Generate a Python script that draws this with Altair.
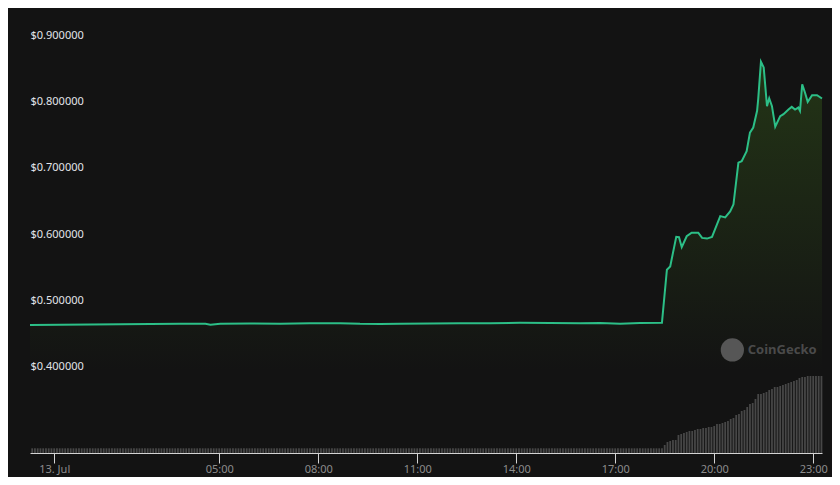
import altair as alt
import pandas as pd

# ---------------- data ----------------
price_times = [
    "2023-07-12T23:16", "2023-07-13T00:11", "2023-07-13T01:05", "2023-07-13T02:00",
    "2023-07-13T02:55", "2023-07-13T03:49", "2023-07-13T04:35", "2023-07-13T04:44",
    "2023-07-13T05:02", "2023-07-13T05:56", "2023-07-13T06:51", "2023-07-13T07:45",
    "2023-07-13T08:40", "2023-07-13T09:16", "2023-07-13T09:53", "2023-07-13T10:29",
    "2023-07-13T11:24", "2023-07-13T12:18", "2023-07-13T13:13", "2023-07-13T14:07",
    "2023-07-13T15:02", "2023-07-13T15:56", "2023-07-13T16:33", "2023-07-13T17:09",
    "2023-07-13T17:45", "2023-07-13T18:25", "2023-07-13T18:34", "2023-07-13T18:40",
    "2023-07-13T18:51", "2023-07-13T18:56", "2023-07-13T19:01", "2023-07-13T19:10",
    "2023-07-13T19:19", "2023-07-13T19:31", "2023-07-13T19:38", "2023-07-13T19:47",
    "2023-07-13T19:56", "2023-07-13T20:11", "2023-07-13T20:20", "2023-07-13T20:29",
    "2023-07-13T20:35", "2023-07-13T20:44", "2023-07-13T20:50", "2023-07-13T20:59",
    "2023-07-13T21:05", "2023-07-13T21:11", "2023-07-13T21:18", "2023-07-13T21:20",
    "2023-07-13T21:25", "2023-07-13T21:30", "2023-07-13T21:36", "2023-07-13T21:40",
    "2023-07-13T21:45", "2023-07-13T21:51", "2023-07-13T22:00", "2023-07-13T22:06",
    "2023-07-13T22:15", "2023-07-13T22:21", "2023-07-13T22:27", "2023-07-13T22:33",
    "2023-07-13T22:36", "2023-07-13T22:40", "2023-07-13T22:45", "2023-07-13T22:50",
    "2023-07-13T22:58", "2023-07-13T23:07", "2023-07-13T23:16",
]
price_values = [
    0.4695, 0.4700, 0.4702, 0.4706,
    0.4709, 0.4712, 0.4712, 0.4700,
    0.4712, 0.4718, 0.4715, 0.4720,
    0.4722, 0.4712, 0.4710, 0.4712,
    0.4718, 0.4720, 0.4722, 0.4727,
    0.4725, 0.4722, 0.4725, 0.4712,
    0.4725, 0.4730, 0.5530, 0.5580,
    0.6026, 0.6020, 0.5870, 0.6035,
    0.6090, 0.6090, 0.6010, 0.6000,
    0.6026, 0.6340, 0.6320, 0.6410,
    0.6515, 0.7147, 0.7170, 0.7320,
    0.7600, 0.7677, 0.7930, 0.8106,
    0.8670, 0.8586, 0.8000, 0.8120,
    0.8000, 0.7690, 0.7850, 0.7880,
    0.7950, 0.7990, 0.7950, 0.7980,
    0.7930, 0.8330, 0.8207, 0.8065,
    0.8167, 0.8167, 0.8116,
]

# 5-minute volume bars, first bar 2023-07-12 23:20 (values in $M)
vol_start = "2023-07-12T23:20"
vol_values = [
    # 23:20-23:55 (Jul 12)
    0.47, 0.47, 0.47, 0.47, 0.47, 0.47, 0.47, 0.47,
    # 00:00 - 17:55 (Jul 13), one row per hour
    0.47, 0.47, 0.47, 0.47, 0.47, 0.47, 0.47, 0.47, 0.47, 0.47, 0.47, 0.47,
    0.47, 0.47, 0.47, 0.47, 0.47, 0.47, 0.47, 0.47, 0.47, 0.47, 0.47, 0.47,
    0.47, 0.47, 0.47, 0.47, 0.47, 0.47, 0.47, 0.47, 0.47, 0.47, 0.47, 0.47,
    0.47, 0.47, 0.47, 0.47, 0.47, 0.47, 0.47, 0.47, 0.47, 0.47, 0.47, 0.47,
    0.47, 0.47, 0.47, 0.47, 0.47, 0.47, 0.47, 0.47, 0.47, 0.47, 0.47, 0.47,
    0.47, 0.47, 0.47, 0.47, 0.47, 0.47, 0.47, 0.47, 0.47, 0.47, 0.47, 0.47,
    0.47, 0.47, 0.47, 0.47, 0.47, 0.47, 0.47, 0.47, 0.47, 0.47, 0.47, 0.47,
    0.47, 0.47, 0.47, 0.47, 0.47, 0.47, 0.47, 0.47, 0.47, 0.47, 0.47, 0.47,
    0.47, 0.47, 0.47, 0.47, 0.47, 0.47, 0.47, 0.47, 0.47, 0.47, 0.47, 0.47,
    0.47, 0.47, 0.47, 0.47, 0.47, 0.47, 0.47, 0.47, 0.47, 0.47, 0.47, 0.47,
    0.47, 0.47, 0.47, 0.47, 0.47, 0.47, 0.47, 0.47, 0.47, 0.47, 0.47, 0.47,
    0.47, 0.47, 0.47, 0.47, 0.47, 0.47, 0.47, 0.47, 0.47, 0.47, 0.47, 0.47,
    0.47, 0.47, 0.47, 0.47, 0.47, 0.47, 0.47, 0.47, 0.47, 0.47, 0.47, 0.47,
    0.47, 0.47, 0.47, 0.47, 0.47, 0.47, 0.47, 0.47, 0.47, 0.47, 0.47, 0.47,
    0.47, 0.47, 0.47, 0.47, 0.47, 0.47, 0.47, 0.47, 0.47, 0.47, 0.47, 0.47,
    0.47, 0.47, 0.47, 0.47, 0.47, 0.47, 0.47, 0.47, 0.47, 0.47, 0.47, 0.47,
    0.47, 0.47, 0.47, 0.47, 0.47, 0.47, 0.47, 0.47, 0.47, 0.47, 0.47, 0.47,
    0.47, 0.47, 0.47, 0.47, 0.47, 0.47, 0.47, 0.47, 0.47, 0.47, 0.47, 0.47,
    # 18:00-18:25
    0.47, 0.47, 0.47, 0.47, 0.47, 0.47,
    # 18:30-18:55
    0.8, 1.1, 1.2, 1.3, 1.3, 1.8,
    # 19:00-19:55
    1.9, 2.0, 2.1, 2.2, 2.2, 2.3, 2.4, 2.4, 2.5, 2.5, 2.6, 2.6,
    # 20:00-20:55
    2.7, 2.9, 2.9, 3.0, 3.1, 3.2, 3.4, 3.5, 3.8, 3.9, 4.2, 4.3,
    # 21:00-21:55
    4.6, 4.9, 5.0, 5.4, 5.9, 5.9, 6.0, 6.1, 6.3, 6.4, 6.6, 6.6,
    # 22:00-22:55
    6.7, 6.8, 6.9, 7.0, 7.1, 7.2, 7.3, 7.5, 7.6, 7.6, 7.7, 7.7,
    # 23:00-23:15
    7.7, 7.7, 7.7, 7.7,
]

tick_hours = [0, 5, 8, 11, 14, 17, 20, 23]
price_ticks = [0.4, 0.5, 0.6, 0.7, 0.8, 0.9]
watermark_times = ["2023-07-13T20:33", "2023-07-13T21:01"]
watermark_price = 0.4318

# ---------------- tables ----------------
price_df = pd.DataFrame({"time": price_times, "price": price_values})
vol_times = pd.date_range(vol_start, periods=len(vol_values), freq="5min").strftime("%Y-%m-%dT%H:%M")
vol_df = pd.DataFrame({"time": list(vol_times), "volume": vol_values})
wm_circle = pd.DataFrame({"time": [watermark_times[0]], "price": [watermark_price]})
wm_text = pd.DataFrame({"time": [watermark_times[1]], "price": [watermark_price], "label": ["CoinGecko"]})

FONT = "Noto Sans"

x_scale = alt.Scale(domain=[alt.DateTime(year=2023, month=7, date=12, hours=23, minutes=16),
                            alt.DateTime(year=2023, month=7, date=13, hours=23, minutes=16)],
                    padding=0)
x_axis = alt.Axis(
    values=[alt.DateTime(year=2023, month=7, date=13, hours=h) for h in tick_hours],
    labelExpr="hours(datum.value) == 0 ? '13. Jul' : timeFormat(datum.value, '%H:%M')",
    grid=False, domainColor="#d4d4d4", domainWidth=1.2, tickColor="#d4d4d4",
    tickSize=10, labelPadding=0, labelColor="#8c8c8c", labelFontSize=11,
    labelFont=FONT, labelFlush=False, title=None,
)
x_enc = alt.X("time:T", scale=x_scale, axis=x_axis)

price_scale = alt.Scale(domain=[0.2761, 0.9], nice=False, zero=False)
y_axis = alt.Axis(
    values=price_ticks, labelExpr="'$' + format(datum.value, '.6f')",
    orient="left", ticks=False, tickSize=0, domain=False, labelPadding=0,
    labelAlign="left", labelBaseline="alphabetic", labelOffset=-1.5,
    labelColor="#e2e4ea", labelFontSize=11, labelFont=FONT,
    gridColor="#2a2a2a", gridWidth=1, title=None,
)
y_price = alt.Y("price:Q", scale=price_scale, axis=y_axis)

volume = alt.Chart(vol_df).mark_bar(size=1.8, color="#474747").encode(
    x=x_enc,
    y=alt.Y("volume:Q", scale=alt.Scale(domain=[0, 41.3], nice=False), axis=None),
)

area = alt.Chart(price_df).mark_area(
    color=alt.Gradient(
        gradient="linear",
        stops=[alt.GradientStop(color="rgba(70,125,30,0.32)", offset=0),
               alt.GradientStop(color="rgba(70,125,30,0)", offset=1)],
        x1=1, x2=1, y1=0, y2=1,
    )
).encode(x=x_enc, y=y_price, y2=alt.datum(0.4))

line = alt.Chart(price_df).mark_line(color="#2cbf87", strokeWidth=2).encode(
    x=x_enc, y=y_price
)

wm_dot = alt.Chart(wm_circle).mark_point(filled=True, size=540, color="#565656", opacity=1).encode(
    x=x_enc, y=y_price
)
wm_label = alt.Chart(wm_text).mark_text(
    fontSize=13, fontWeight="bold", color="#4a4a4a", align="left", baseline="middle", font=FONT
).encode(x=x_enc, y=y_price, text="label:N")

price_layer = alt.layer(area, line, wm_dot, wm_label)

chart = alt.layer(volume, price_layer).resolve_scale(y="independent").properties(
    width=792, height=413,
    background="#131313",
    padding={"left": 22, "top": 32, "right": 10, "bottom": 24},
    autosize=alt.AutoSizeParams(type="none"),
).configure_view(stroke=None)

chart.save("out.html", embed_options={"renderer": "svg", "actions": False})
